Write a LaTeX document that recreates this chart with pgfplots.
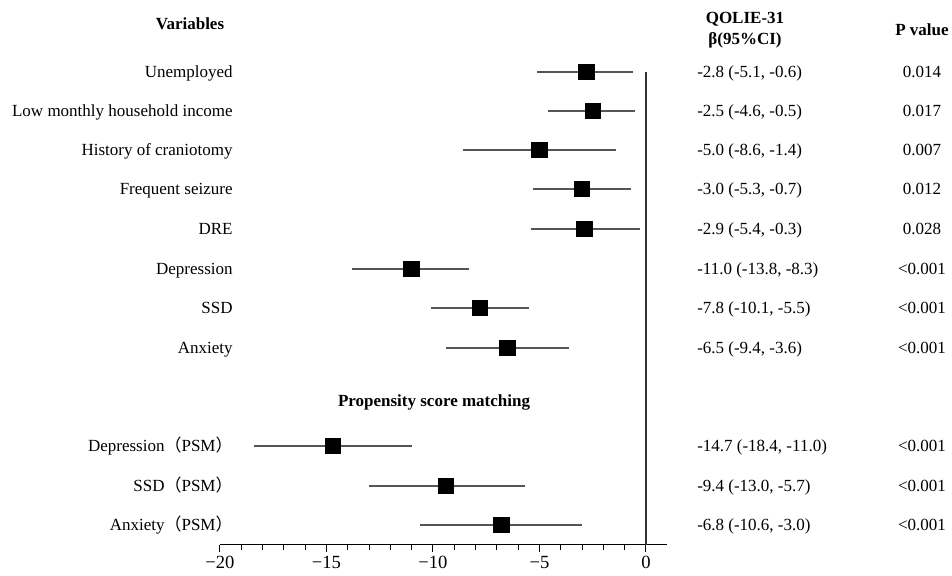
\documentclass[border=0pt]{standalone}
\usepackage{pgfplots}
\pgfplotsset{compat=1.18}
\usepackage{pgfplotstable}
\usepackage{fontspec}
\setmainfont{Liberation Serif}
\newfontfamily\cjk{Noto Sans CJK SC}
\definecolor{ci}{HTML}{555555}
\definecolor{zero}{HTML}{333333}

\pgfplotstableread{
y   est    lo     hi
72  -2.8   -5.1   -0.6
111 -2.5   -4.6   -0.5
150 -5.0   -8.6   -1.4
189 -3.0   -5.3   -0.7
229 -2.9   -5.4   -0.3
269 -11.0  -13.8  -8.3
308 -7.8   -10.1  -5.5
348 -6.5   -9.4   -3.6
446 -14.7  -18.4  -11.0
486 -9.4   -13.0  -5.7
525 -6.8   -10.6  -3.0
}\foresttab

\begin{document}
\begin{tikzpicture}[font=\fontsize{8.5}{10.5}\selectfont,
  lab/.style={text height=1.6ex, text depth=0.3ex, inner sep=0pt}]
\begin{axis}[
  scale only axis, width=223.65pt, height=272.5pt,
  xmin=-20, xmax=1, ymin=0, ymax=545, y dir=reverse,
  axis x line*=bottom, axis y line=none,
  xtick={-20,-15,-10,-5,0}, xticklabels={−20,−15,−10,−5,0},
  minor x tick num=4, tick align=outside,
  major tick length=3.5pt, minor tick length=2.5pt,
  every tick/.style={black, line width=0.5pt},
  axis line style={black, line width=0.5pt},
  tick label style={font=\fontsize{9.3}{10}\selectfont},
  xticklabel style={yshift=1.2pt},
  clip=false,
]
\path (axis cs:-30.33,0) rectangle (axis cs:14.37,572);
\addplot[zero, line width=0.55pt] coordinates {(0,72) (0,545)};
\addplot[only marks, mark=none,
  error bars/.cd, x dir=both, x explicit, error mark=none,
  error bar style={ci, line width=0.55pt}]
  table[x=est, y=y,
    x error plus expr=\thisrow{hi}-\thisrow{est},
    x error minus expr=\thisrow{est}-\thisrow{lo}] {\foresttab};
\addplot[only marks, mark=square*, mark size=3.9pt, black] table[x=est, y=y] {\foresttab};

% headers
\node[lab, font=\fontsize{8.5}{10.5}\selectfont\bfseries] at (axis cs:-21.41,24) {Variables};
\node[align=center, inner sep=0pt, font=\fontsize{8.5}{10.5}\selectfont\bfseries] at (axis cs:4.65,30) {QOLIE-31\\β(95\%CI)};
\node[lab, font=\fontsize{8.5}{10.5}\selectfont\bfseries] at (axis cs:12.96,30) {P value};
\node[lab, font=\fontsize{8.5}{10.5}\selectfont\bfseries] at (axis cs:-9.95,401) {Propensity score matching};

% row labels
\node[lab, anchor=east] at (axis cs:-19.39,72) {Unemployed};
\node[lab, anchor=east] at (axis cs:-19.39,111) {Low monthly household income};
\node[lab, anchor=east] at (axis cs:-19.39,150) {History of craniotomy};
\node[lab, anchor=east] at (axis cs:-19.39,189) {Frequent seizure};
\node[lab, anchor=east] at (axis cs:-19.39,229) {DRE};
\node[lab, anchor=east] at (axis cs:-19.39,269) {Depression};
\node[lab, anchor=east] at (axis cs:-19.39,308) {SSD};
\node[lab, anchor=east] at (axis cs:-19.39,348) {Anxiety};
\node[lab, anchor=east] at (axis cs:-19.39,446) {Depression{\cjk（}PSM{\cjk）}};
\node[lab, anchor=east] at (axis cs:-19.39,486) {SSD{\cjk（}PSM{\cjk）}};
\node[lab, anchor=east] at (axis cs:-19.39,525) {Anxiety{\cjk（}PSM{\cjk）}};

% estimates
\node[lab, anchor=west] at (axis cs:2.39,72) {-2.8 (-5.1, -0.6)};
\node[lab, anchor=west] at (axis cs:2.39,111) {-2.5 (-4.6, -0.5)};
\node[lab, anchor=west] at (axis cs:2.39,150) {-5.0 (-8.6, -1.4)};
\node[lab, anchor=west] at (axis cs:2.39,189) {-3.0 (-5.3, -0.7)};
\node[lab, anchor=west] at (axis cs:2.39,229) {-2.9 (-5.4, -0.3)};
\node[lab, anchor=west] at (axis cs:2.39,269) {-11.0 (-13.8, -8.3)};
\node[lab, anchor=west] at (axis cs:2.39,308) {-7.8 (-10.1, -5.5)};
\node[lab, anchor=west] at (axis cs:2.39,348) {-6.5 (-9.4, -3.6)};
\node[lab, anchor=west] at (axis cs:2.39,446) {-14.7 (-18.4, -11.0)};
\node[lab, anchor=west] at (axis cs:2.39,486) {-9.4 (-13.0, -5.7)};
\node[lab, anchor=west] at (axis cs:2.39,525) {-6.8 (-10.6, -3.0)};

% p values
\node[lab] at (axis cs:12.96,72) {0.014};
\node[lab] at (axis cs:12.96,111) {0.017};
\node[lab] at (axis cs:12.96,150) {0.007};
\node[lab] at (axis cs:12.96,189) {0.012};
\node[lab] at (axis cs:12.96,229) {0.028};
\node[lab] at (axis cs:12.96,269) {<0.001};
\node[lab] at (axis cs:12.96,308) {<0.001};
\node[lab] at (axis cs:12.96,348) {<0.001};
\node[lab] at (axis cs:12.96,446) {<0.001};
\node[lab] at (axis cs:12.96,486) {<0.001};
\node[lab] at (axis cs:12.96,525) {<0.001};
\end{axis}
\end{tikzpicture}
\end{document}
